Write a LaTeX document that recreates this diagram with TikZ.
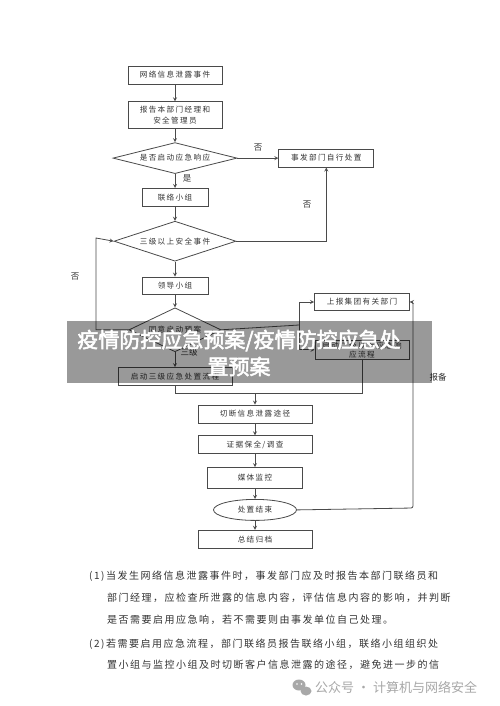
\documentclass[tikz,border=0pt]{standalone}
\usepackage{fontspec}
\setmainfont{Noto Sans CJK SC}
\newfontfamily\boxfont[LetterSpace=18]{Noto Sans CJK SC}
\newfontfamily\bodyfont[LetterSpace=15]{Noto Sans CJK SC}
\newfontfamily\titlefont[FakeBold=2.5]{Noto Sans CJK SC}
\usetikzlibrary{shapes,arrows,positioning}
\definecolor{linec}{HTML}{4A4A4A}
\definecolor{textc}{HTML}{333333}
\definecolor{markc}{HTML}{A8A8A8}

\begin{document}
\begin{tikzpicture}[
    x=1pt, y=-1pt,
    node distance=14pt,
    stepbox/.style={rectangle, draw=linec, line width=0.8pt, fill=white, minimum width=94pt, minimum height=18pt, inner sep=1pt, align=center, text=textc, font=\boxfont\fontsize{7.6}{10.5}\selectfont},
    decide/.style={diamond, draw=linec, line width=0.8pt, fill=white, inner sep=0pt, align=center, text=textc, font=\boxfont\fontsize{7.6}{10}\selectfont},
    endnode/.style={ellipse, draw=linec, line width=0.8pt, fill=white, minimum width=83pt, minimum height=21pt, inner sep=0pt, text=textc, font=\boxfont\fontsize{7.6}{10}\selectfont},
    tag/.style={text=textc, font=\fontsize{8.5}{10}\selectfont, inner sep=0pt},
    bodyline/.style={anchor=west, text=textc, inner sep=0pt, font=\bodyfont\fontsize{10}{12}\selectfont},
    arrow/.style={->, >=stealth, line width=0.8pt, draw=linec},
    link/.style={line width=0.8pt, draw=linec}
]
\useasboundingbox (0,0) rectangle (500,706);
\fill[white] (0,0) rectangle (500,706);

% Upper chain
\node[stepbox] (event) at (175,75) {网络信息泄露事件};
\node[stepbox, minimum height=27pt, below=17pt of event] (report) {报告本部门经理和\\安全管理员};
\node[decide, aspect=4, minimum width=124pt, minimum height=31pt, below=13pt of report] (respond) {是否启动应急响应};
\node[stepbox, minimum width=95pt, right=41pt of respond] (selfdo) {事发部门自行处置};
\node[stepbox, minimum width=66pt, below=14pt of respond] (liaison) {联络小组};
\node[decide, aspect=3, minimum width=122pt, minimum height=40pt, below=14pt of liaison] (level) {三级以上安全事件};
\node[stepbox, minimum width=66pt, minimum height=17pt, below=15pt of level] (leader) {领导小组};
\node[decide, aspect=2, minimum width=92pt, minimum height=44pt, below=13pt of leader] (agree) {同意启动预案};
\node[stepbox, minimum width=114pt, below=15pt of agree] (third) {启动三级应急处置流程};

% Right branch
\node[stepbox, minimum width=95pt, minimum height=17pt] (group) at (362,302) {上报集团有关部门};
\node[stepbox, minimum width=94pt, minimum height=19pt, inner sep=0pt, font=\boxfont\fontsize{7.6}{9}\selectfont, below=29pt of group] (upper) {启动二级以上应急响\\应流程};

% Lower chain
\node[stepbox, minimum width=114pt] (cut) at (255,414) {切断信息泄露途径};
\node[stepbox, minimum width=114pt, below=12pt of cut] (evidence) {证据保全/调查};
\node[stepbox, minimum width=95pt, minimum height=21pt, below=13pt of evidence] (media) {媒体监控};
\node[endnode, below=10pt of media] (finish) {处置结束};
\node[stepbox, minimum width=114pt, below=9pt of finish] (archive) {总结归档};

\coordinate (loopL) at (96,238);
\coordinate (split) at (299,325);
\coordinate (join) at (255,393);
\coordinate (backR) at (413,508);

% Arrows
\draw[arrow] (event) -- (report);
\draw[arrow] (report) -- (respond);
\draw[arrow] (respond) -- (selfdo);
\draw[arrow] (respond) -- (liaison);
\draw[arrow] (liaison) -- (level);
\draw[arrow] (level.east) -| (selfdo.south);
\draw[arrow] (level) -- (leader);
\draw[arrow] (leader) -- (agree);
\draw[arrow] (agree.west) -| (loopL) -- (level.west);
\draw[arrow] (agree) -- (third);
\draw[link] (agree.east) -- (split);
\draw[arrow] (split) |- (group.west);
\draw[arrow] (split) |- (upper.west);
\draw[link] (third.south) |- (join);
\draw[link] (upper.south) |- (join);
\draw[arrow] (join) -- (cut);
\draw[arrow] (cut) -- (evidence);
\draw[arrow] (evidence) -- (media);
\draw[arrow] (media) -- (finish);
\draw[arrow] (finish) -- (archive);
\draw[arrow, rounded corners=2pt] (finish.east) -- (backR) |- (group.east);

% Labels
\node[tag] (noA) at (258,148) {否};
\node[tag] (yesA) at (187,178) {是};
\node[tag] (noB) at (307,205) {否};
\node[tag] (noC) at (75,277) {否};
\node[tag] (three) at (189,352) {三级};
\node[tag] (file) at (438,377) {报备};

% Title band
\fill[black, opacity=0.4] (67,321) rectangle (432,383);
\node[text=white, font=\titlefont\fontsize{21}{27}\selectfont, align=center, inner sep=0pt] (title) at (239,353) {疫情防控应急预案/疫情防控应急处\\置预案};

% Notes
\node[bodyline] (l1) at (89,576) {(1)当发生网络信息泄露事件时，事发部门应及时报告本部门联络员和};
\node[bodyline] (l2) at (107,598) {部门经理，应检查所泄露的信息内容，评估信息内容的影响，并判断};
\node[bodyline] (l3) at (107,620) {是否需要启用应急响，若不需要则由事发单位自己处理。};
\node[bodyline] (l4) at (89,644) {(2)若需要启用应急流程，部门联络员报告联络小组，联络小组组织处};
\node[bodyline] (l5) at (107,665) {置小组与监控小组及时切断客户信息泄露的途径，避免进一步的信};

% Watermark
\fill[markc] (299,685) ellipse (6.5pt and 5.5pt);
\fill[markc] (306,691) ellipse (5.5pt and 4.5pt);
\fill[white] (297,684) circle (0.9pt) (301.5,684) circle (0.9pt);
\node[anchor=west, text=markc, inner sep=0pt, font=\fontsize{13}{15}\selectfont] (mark) at (315,687) {公众号 · 计算机与网络安全};
\end{tikzpicture}
\end{document}
